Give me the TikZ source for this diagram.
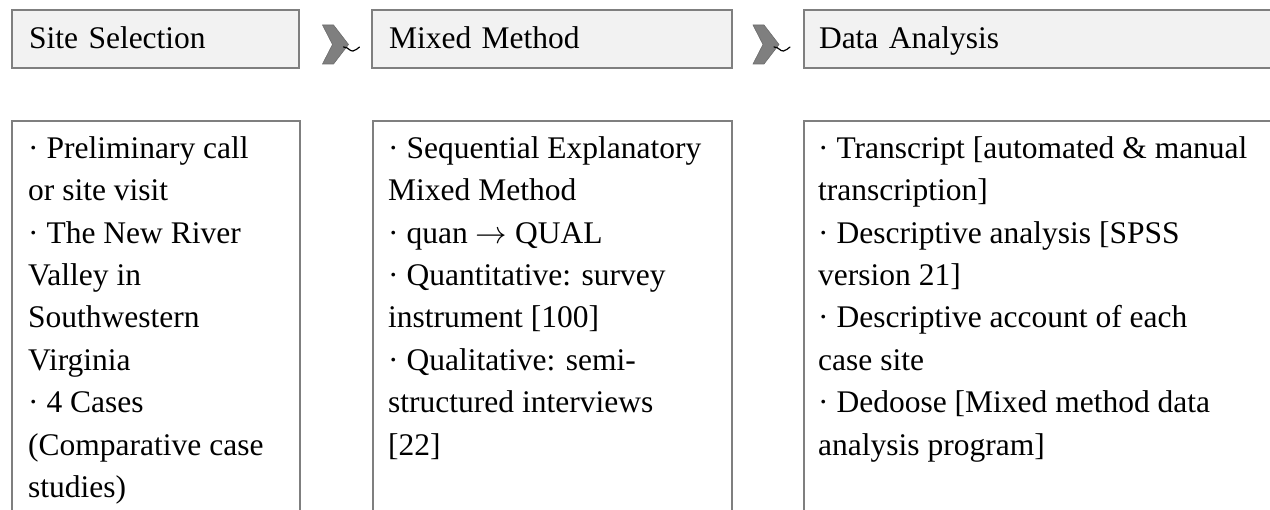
\RequirePackage{fix-cm}
\documentclass[tikz,border=0pt]{standalone}
\usepackage{fontspec}
\setmainfont{Liberation Serif}
\usetikzlibrary{calc}

\definecolor{edgegray}{HTML}{7F7F7F}
\definecolor{headfill}{HTML}{F2F2F2}
\definecolor{chevgray}{HTML}{7F7F7F}

\tikzset{
  box/.style={draw=edgegray, line width=2pt, inner sep=0pt, anchor=north west},
  head/.style={box, fill=headfill, minimum height=58pt, align=left,
    inner xsep=17pt, text height=24pt, text depth=4pt,
    font=\fontsize{31.5}{38}\selectfont},
  body/.style={box, fill=white, minimum height=420pt},
  bodytext/.style={anchor=north west, inner sep=0pt, align=left,
    font=\fontsize{31.5}{42.4}\selectfont},
  chevron/.style={fill=chevgray, draw=chevgray!85!black, line width=0.6pt},
  tail/.style={draw=black, line width=1.2pt, line cap=round}
}

\begin{document}
\begin{tikzpicture}[x=1pt, y=-1pt]
  \useasboundingbox (0,0) rectangle (1270,510);
  \clip (0,0) rectangle (1270,510);

  % stage headers
  \node[head, text width=253pt] (h1) at (11,9) {Site Selection};
  \node[head, text width=326pt] (h2) at (371,9) {Mixed Method};
  \node[head, text width=457pt, inner xsep=15pt] (h3) at (803,9) {Data Analysis};

  % detail boxes (open at the bottom edge)
  \node[body, minimum width=288pt] (b1) at (11,120) {};
  \node[body, minimum width=359pt] (b2) at (372,120) {};
  \node[body, minimum width=487pt] (b3) at (803,120) {};

  % detail texts
  \node[bodytext] (t1) at ([xshift=17pt, yshift=-8.5pt]b1.north west)
    {\strut· Preliminary call\\
     or site visit\\
     · The New River\\
     Valley in\\
     Southwestern\\
     Virginia\\
     · 4 Cases\\
     (Comparative case\\
     studies)};
  \node[bodytext] (t2) at ([xshift=16pt, yshift=-8.5pt]b2.north west)
    {\strut· Sequential Explanatory\\
     Mixed Method\\
     · quan $\rightarrow$ QUAL\\
     · Quantitative: survey\\
     instrument [100]\\
     · Qualitative: semi-\\
     structured interviews\\
     {}[22]};
  \node[bodytext] (t3) at ([xshift=15pt, yshift=-8.5pt]b3.north west)
    {\strut· Transcript [automated \& manual\\
     transcription]\\
     · Descriptive analysis [SPSS\\
     version 21]\\
     · Descriptive account of each\\
     case site\\
     · Dedoose [Mixed method data\\
     analysis program]};

  % chevrons between the stages
  \coordinate (m1) at ($($(h1.east)!0.5!(h2.west)$)+(0,5.5)$);
  \coordinate (m2) at ($($(h2.east)!0.5!(h3.west)$)+(-2,5.5)$);
  \foreach \m in {m1,m2}{
    \draw[chevron, shift={(\m)}] (-13,-19.5) -- (-2,-19.5) -- (13,0)
      -- (-2,19.5) -- (-13,19.5) -- (-3,0) -- cycle;
    \draw[tail, shift={(\m)}] (8,2.5) .. controls (13,2.5) and (14,7) .. (17.5,6.5)
      .. controls (20,6) and (22,4) .. (24,2.5);
  }
\end{tikzpicture}
\end{document}
